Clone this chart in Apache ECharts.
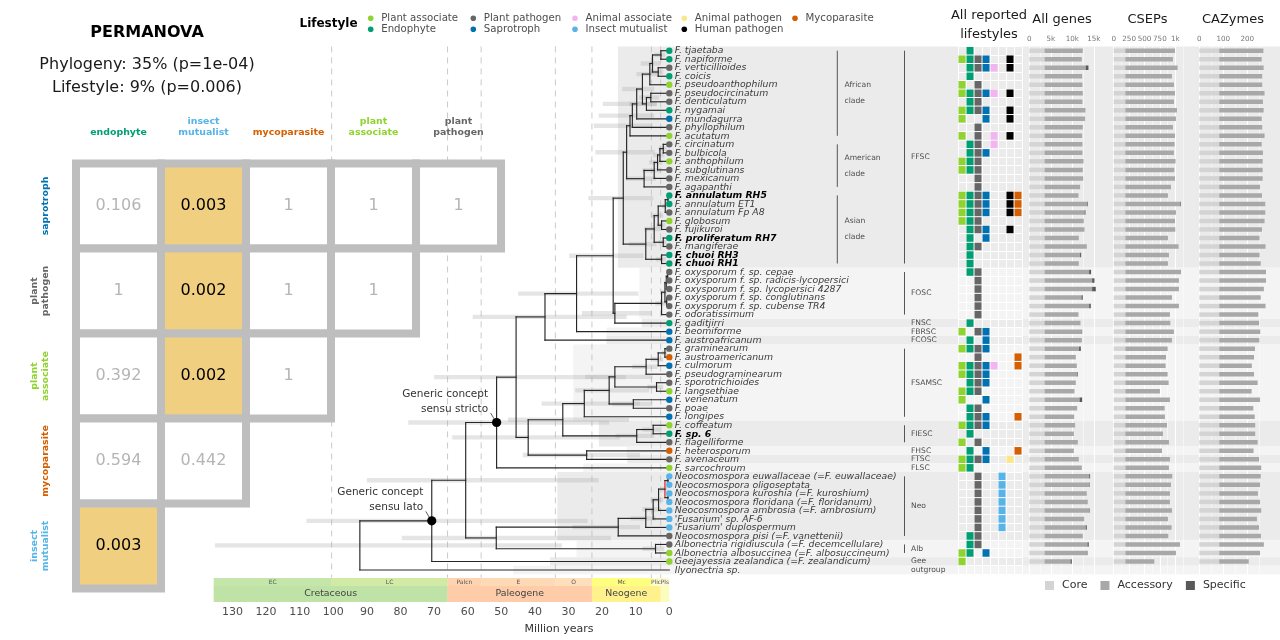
<!DOCTYPE html>
<html><head><meta charset="utf-8">
<script src="https://cdn.jsdelivr.net/npm/echarts/dist/echarts.min.js"></script>
<style>html,body{margin:0;padding:0;background:#fff}#c{width:1280px;height:640px}</style>
</head><body><div id="c"></div>
<script>
// ================= DATA =================
const tipNames = [
'F. tjaetaba','F. napiforme','F. verticillioides','F. coicis','F. pseudoanthophilum','F. pseudocircinatum','F. denticulatum','F. nygamai','F. mundagurra','F. phyllophilum',
'F. acutatum','F. circinatum','F. bulbicola','F. anthophilum','F. subglutinans','F. mexicanum','F. agapanthi','F. annulatum RH5','F. annulatum ET1','F. annulatum Fp A8',
'F. globosum','F. fujikuroi','F. proliferatum RH7','F. mangiferae','F. chuoi RH3','F. chuoi RH1','F. oxysporum f. sp. cepae','F. oxysporum f. sp. radicis-lycopersici','F. oxysporum f. sp. lycopersici 4287','F. oxysporum f. sp. conglutinans',
'F. oxysporum f. sp. cubense TR4','F. odoratissimum','F. gaditjirri','F. beomiforme','F. austroafricanum','F. graminearum','F. austroamericanum','F. culmorum','F. pseudograminearum','F. sporotrichioides',
'F. langsethiae','F. venenatum','F. poae','F. longipes','F. coffeatum','F. sp. 6','F. flagelliforme','F. heterosporum','F. avenaceum','F. sarcochroum',
'Neocosmospora euwallaceae (=F. euwallaceae)','Neocosmospora oligoseptata','Neocosmospora kuroshia (=F. kuroshium)','Neocosmospora floridana (=F. floridanum)','Neocosmospora ambrosia (=F. ambrosium)',"'Fusarium' sp. AF-6","'Fusarium' duplospermum",'Neocosmospora pisi (=F. vanettenii)','Albonectria rigidiuscula (=F. decemcellulare)','Albonectria albosuccinea (=F. albosuccineum)',
'Geejayessia zealandica (=F. zealandicum)','Ilyonectria sp.'];
const boldTips = [18, 23, 25, 26, 46];
// tip lifestyle codes (a plant associate, e endophyte, p plant pathogen, s saprotroph, m animal associate, i insect mutualist, y animal pathogen, h human pathogen, o mycoparasite)
const tipLifestyleGroups = ['eepeappesp','appapppeep','apepeepppp','ppesspospp','aspsaepopa','iiiiiiippa','a.'];

const lifestyleNames = ['Plant associate','Endophyte','Plant pathogen','Saprotroph','Animal associate','Insect mutualist','Animal pathogen','Human pathogen','Mycoparasite'];
const lifestyleCodes = ['a','e','p','s','m','i','y','h','o'];

// all reported lifestyles (8 columns per species)
const lifestyleTiles = [
'.e......','aeps..h.','.epsm.h.','.e......','a.p.....','aepsm.h.','.ep.....','aeps..h.','a..s..h.','..p.....',
'a.p.m.h.','.ep.m...','.eps....','aep.....','aep.....','..p.....','..p.....','aeps..ho','aeps..ho','aeps..ho',
'aep.....','.eps..h.','.e.s....','.ep.....','.e......','.e......','.ep.....','..p.....','..p.....','..p.....',
'..p.....','..p.....','.e......','a.ps....','.e.s....','aeps....','..p....o','aepsm..o','aeps....','.eps....',
'aep.....','a..s....','.ep.....','.eps...o','aeps....','.e......','a.p.....','.e.s...o','aeps..y.','ae......',
'..p..i..','..p..i..','..p..i..','..p..i..','..p..i..','..p..i..','..p..i..','.ep.....','.ep.....','ae.s....',
'a.......','........'];

// tree: internal nodes (children are tip numbers or node ids), ages in Myr, 95% HPD
const nodeId = ['A1','A2','A3','A4','A5','A6','A7','A8','A9','A10','B1','B2','B3','B4','B5','AfAm','C1','C2','C3','C4','C5','C6','C7','C8','FFSC',
'F1','F2','F3','F4','F5','N162','N167','N276','N37','S1','S2','S3','S4','S5','S6','S7','S8','T1','T2','E','HT','D','CC','SS',
'M1','M2','M3','M4','M5','M6','NEO','ALB','NA','BB','SL','ROOT'];
const nodeKids = [[1,2],[3,4],['A1','A2'],['A3',5],[6,7],['A5',8],['A4','A6'],['A7',9],['A8',10],['A9',11],
[12,13],['B1',14],['B2',15],['B3',16],['B4',17],['A10','B5'],
[18,19],['C1',20],[21,22],['C2','C3'],[23,24],['C4','C5'],[25,26],['C6','C7'],['AfAm','C8'],
[27,28],['F1',29],[30,31],['F2','F3'],['F4',32],['F5',33],['FFSC','N162'],['N167',34],['N276',35],
[36,37],['S1',38],['S2',39],[40,41],['S3','S4'],[42,43],['S5','S6'],['S7',44],[45,46],['T1',47],['S8','T2'],[48,49],['E','HT'],['N37','D'],['CC',50],
[51,52],[53,54],['M1','M2'],['M3',55],['M4',56],['M5',57],['M6',58],[59,60],['NEO','ALB'],['SS','NA'],['BB',61],['SL',62]];
const nodeAge = [2.5,3.3,5.0,5.8,5.5,6.8,8.0,9.7,11.0,11.7, 1.8,2.8,3.5,4.5,7.5,12.7, 0.4,1.2,2.3,3.3,1.8,4.5,2.3,7.0,13.7,
0.5,0.9,0.8,1.3,2.3,16.2,16.7,27.6,37.0, 1.3,3.3,6.9,3.8,16.2,10.7,17.9,25.3,4.8,9.7,31.7,24.6,42.0,45.6,51.4,
0.4,0.4,1.3,3.2,4.8,7.0,15.2,4.1,51.5,60.6,70.7,92.1];
const nodeHpdLo = [1.2,1.8,2.6,3.2,3.0,3.8,4.5,3.7,4.5,5.0, 0.8,1.5,2.0,2.5,4.0,4.3, 0.1,0.6,1.2,1.8,0.8,2.5,1.0,3.8,4.8,
0.2,0.4,0.3,0.6,1.0,5.2,7.7,9.2,12.7, 0.6,1.8,3.5,1.8,5.0,5.0,6.0,8.7,2.3,4.5,12.0,8.7,14.7,13.0,17.9,
0.1,0.1,0.6,1.8,2.5,4.0,8.7,1.5,17.4,21.0,24.3,32.0];
const nodeHpdHi = [4.4,5.5,8.5,9.8,9.0,12.0,14.0,19.8,21.0,22.5, 3.2,4.8,6.0,8.0,13.0,22.0, 0.9,2.2,3.8,5.5,3.2,7.5,4.0,12.0,24.1,
1.0,1.6,1.5,2.4,4.2,26.0,29.8,45.0,58.5, 2.3,5.5,11.0,6.5,25.0,17.0,28.0,38.0,8.0,16.0,48.0,43.6,64.6,70.0,77.7,
0.9,0.9,2.4,5.5,8.0,11.5,28.8,8.0,79.6,90.0,108.0,135.2];
const redNodes = ['M3'];
const annoNodes = ['SS','SL'];
const annoText = ['Generic concept\nsensu stricto','Generic concept\nsensu lato'];

// species complexes
const cladeNames = ['FFSC','FOSC','FNSC','FBRSC','FCOSC','FSAMSC','FIESC','FHSC','FTSC','FLSC','Neo','Alb','Gee','outgroup'];
const cladeFirst = [1,27,33,34,35,36,45,48,49,50,51,59,61,62];
const cladeLast  = [26,32,33,34,35,44,47,48,49,50,58,60,61,62];
const cladeBandAge = [15.3,8.9,8.2,18.7,18.7,28.6,21.0,12.7,12.5,25.6,33.3,27.6,35.5,46.4];
const subNames = ['African\nclade','American\nclade','Asian\nclade'];
const subFirst = [1,12,18];
const subLast = [11,17,26];

// geological time scale
const boundaryAges = [100.5, 66, 56, 33.9, 23.03, 5.333, 2.58];
const epochNames = ['EC','LC','Palcn','E','O','Mc','Plic','Pls',''];
const epochStart = [145,100.5,66,56,33.9,23.03,5.333,2.58,0.0117];
const epochEnd   = [100.5,66,56,33.9,23.03,5.333,2.58,0.0117,0];
const periodNames = ['Cretaceous','Paleogene','Neogene',''];
const periodStart = [145,66,23.03,2.58];
const periodEnd   = [66,23.03,2.58,0];
const timeTicks = [0,10,20,30,40,50,60,70,80,90,100,110,120,130];

// gene counts
const genesCore = [3550,3550,3550,3550,3550,3550,3550,3550,3550,3550,3550,3550,3550,3550,3550,3550,3550,3550,3550,3550,
3550,3550,3550,3550,3550,3550,3550,3550,3550,3550,3550,3550,3550,3550,3550,3550,3550,3550,3550,3550,
3550,3550,3550,3550,3550,3550,3550,3550,3550,3550,3550,3550,3550,3550,3550,3550,3550,3550,3550,3550,3550,null];
const genesAcc = [8890,8660,9590,8740,8810,8890,8810,9510,9430,8890, 8740,8810,8810,9050,8890,8970,8270,7890,9900,9310,
9120,9280,7960,9820,8260,7960,10360,11060,11060,8590, 10370,7890,8350,8640,8660,8030,7270,7500,7580,7270,
6960,8140,7580,6880,7110,6810,7730,6810,7960,8660, 10390,10420,9820,10050,10420,9200,9570,8890,9980,9820, 6040,null];
const genesSpec = [0,0,620,0,0,0,0,0,0,0, 0,0,0,0,0,0,0,0,150,200, 0,0,0,0,250,0,460,540,850,300,
380,0,0,100,0,400,0,0,150,0, 0,600,0,0,0,0,0,0,0,0, 200,100,0,0,100,0,250,0,300,150, 300,null];
const csepCore = [189,189,189,189,189,189,189,189,189,189,189,189,189,189,189,189,189,189,189,189,
189,189,189,189,189,189,189,189,189,189,189,189,189,189,189,189,189,189,189,189,
189,189,189,189,189,189,189,189,189,189,189,189,189,189,189,189,189,189,189,189,189,null];
const csepAcc = [806,773,849,757,789,806,789,838,822,773, 806,800,789,816,795,806,741,692,893,822,
806,811,692,865,708,692,889,870,870,757, 870,724,730,789,757,687,660,654,687,703,
562,724,638,643,676,611,708,595,724,708, 762,741,724,724,757,692,751,697,887,822, 470,null];
const csepSpec = [0,0,0,0,0,0,0,0,0,0, 0,0,0,0,0,0,0,0,10,0, 0,0,0,0,0,0,8,0,0,0,
0,0,0,0,0,0,0,0,0,0, 0,0,0,0,0,0,0,0,0,0, 0,0,0,0,0,0,0,0,0,0, 0,null];
const cazyCore = [83,83,83,83,83,83,83,83,83,83,83,83,83,83,83,83,83,83,83,83,
83,83,83,83,83,83,83,83,83,83,83,83,83,83,83,83,83,83,83,83,
83,83,83,83,83,83,83,83,83,83,83,83,83,83,83,83,83,83,83,83,83,null];
const cazyAcc = [184,177,185,179,179,189,182,185,177,179, 189,177,182,181,181,181,170,178,192,192,
189,178,168,193,168,173,195,195,186,173, 193,163,166,171,167,149,145,136,145,160,
135,170,142,148,150,150,160,143,166,175, 173,170,161,170,175,157,166,174,186,170, 123,null];

// PERMANOVA pairwise p-values
const matCols = ['endophyte','insect mutualist','mycoparasite','plant associate','plant pathogen'];
const matRows = ['saprotroph','plant pathogen','plant associate','mycoparasite','insect mutualist'];
const matP = [
 [0.106,0.003,1,1,1],
 [1,0.002,1,1,null],
 [0.392,0.002,1,null,null],
 [0.594,0.442,null,null,null],
 [0.003,null,null,null,null]];

// ================= STYLE / LAYOUT =================
const FONT = 'DejaVu Sans';
const LIFE_COLORS = ['#8fd32f','#009e73','#666666','#0072b2','#f2b5f0','#56b4e9','#fde68a','#000000','#d55e00'];
const EPOCH_COLORS = ['#8CCD57','#A6D84A','#FDA75F','#FDB46C','#FEC07A','#FFFF00','#FFFF99','#FFF2AE','#FEF2E0'];
const PERIOD_COLORS = ['#7FC64E','#FD9A52','#FFE619','#F9F97F'];
const colorOfCode = c => LIFE_COLORS[lifestyleCodes.indexOf(c)];
const colorOfName = n => LIFE_COLORS[lifestyleNames.map(s => s.toLowerCase()).indexOf(n)];
const tipLifestyle = tipLifestyleGroups.join('').split('');
const NT = tipNames.length;
const ROW_TOP = 46.45, ROW_H = 527.8, TREE_LEFT = 213.7, TREE_W = 455.6, AGE_MAX = 135.6;

const nodeIdx = {}; nodeId.forEach((id, i) => nodeIdx[id] = i);
const nodeRow = [];
function rowOf(k) {
  if (typeof k === 'number') return k;
  const i = nodeIdx[k];
  if (nodeRow[i] === undefined) nodeRow[i] = (rowOf(nodeKids[i][0]) + rowOf(nodeKids[i][1])) / 2;
  return nodeRow[i];
}
nodeId.forEach(id => rowOf(id));
const ageOf = k => typeof k === 'number' ? 0 : nodeAge[nodeIdx[k]];

const chart = echarts.init(document.getElementById('c'), null, {renderer: 'canvas', width: 1280, height: 640});

const gridBase = {outerBoundsMode: 'none', containLabel: false};
const grids = [
  Object.assign({left: TREE_LEFT, top: ROW_TOP, width: TREE_W, height: ROW_H}, gridBase),
  Object.assign({left: TREE_LEFT, top: 578, width: TREE_W, height: 24}, gridBase),
  Object.assign({left: 958, top: ROW_TOP, width: 64, height: ROW_H}, gridBase),
  Object.assign({left: 1029.3, top: ROW_TOP, width: 75.25, height: ROW_H}, gridBase),
  Object.assign({left: 1113.7, top: ROW_TOP, width: 73.9, height: ROW_H}, gridBase),
  Object.assign({left: 1199.3, top: ROW_TOP, width: 70.8, height: ROW_H}, gridBase),
  Object.assign({left: 76, top: 163.5, width: 425, height: 425}, gridBase)
];

function barXAxis(gi, max, interval, fmt) {
  return {type: 'value', gridIndex: gi, position: 'top', min: 0, max: max, interval: interval, z: 3,
    axisLine: {show: false}, axisTick: {show: false},
    axisLabel: {fontSize: 7.2, color: '#777', margin: 4, fontFamily: FONT, formatter: fmt, showMaxLabel: false},
    splitLine: {show: true, showMaxLine: false, lineStyle: {color: '#ffffff', width: 1.1}},
    minorTick: {show: false, splitNumber: 2},
    minorSplitLine: {show: true, lineStyle: {color: '#ffffff', width: 0.5}}};
}
const catY = gi => ({type: 'category', gridIndex: gi, data: tipNames, inverse: true, show: false});

const xAxes = [
  {type: 'value', gridIndex: 0, min: 0, max: AGE_MAX, interval: 10, inverse: true,
   axisLine: {show: false}, axisTick: {show: false}, splitLine: {show: false},
   axisLabel: {margin: 32, fontSize: 11, color: '#4d4d4d', fontFamily: FONT, showMaxLabel: false,
     formatter: v => timeTicks.indexOf(v) >= 0 ? String(v) : ''}},
  {type: 'value', gridIndex: 1, min: 0, max: AGE_MAX, inverse: true, show: false},
  {type: 'category', gridIndex: 2, data: [0,1,2,3,4,5,6,7], z: 3,
   axisLine: {show: false}, axisTick: {show: false}, axisLabel: {show: false},
   splitLine: {show: true, interval: 0, lineStyle: {color: '#ffffff', width: 1}}},
  barXAxis(3, 17500, 5000, v => v === 0 ? '0' : (v % 5000 === 0 ? (v / 1000) + 'k' : '')),
  barXAxis(4, 1200, 250, v => v === 1000 ? '1k' : ((v % 250 === 0 && v < 1000) ? String(v) : '')),
  barXAxis(5, 295, 100, v => v % 100 === 0 ? String(v) : ''),
  {type: 'category', gridIndex: 6, data: matCols, position: 'top',
   axisLine: {show: false}, axisTick: {show: false}, splitLine: {show: false},
   axisLabel: {interval: 0, margin: 25, fontSize: 9.4, fontWeight: 'bold', lineHeight: 11, fontFamily: FONT,
     formatter: v => v.replace(' ', '\n'), color: v => colorOfName(v)}}
];
const yAxes = [
  {type: 'value', gridIndex: 0, min: 0.5, max: NT + 0.5, inverse: true, show: false},
  {type: 'value', gridIndex: 1, min: 0, max: 3, show: false},
  {type: 'category', gridIndex: 2, data: tipNames, inverse: true, z: 3,
   axisLine: {show: false}, axisTick: {show: false}, axisLabel: {show: false},
   splitLine: {show: true, interval: 0, lineStyle: {color: '#ffffff', width: 1}}},
  catY(3), catY(4), catY(5),
  {type: 'category', gridIndex: 6, data: matRows, inverse: true,
   axisLine: {show: false}, axisTick: {show: false}, splitLine: {show: false},
   axisLabel: {interval: 0, rotate: 90, margin: 25, fontSize: 9.4, fontWeight: 'bold', lineHeight: 11, fontFamily: FONT,
     formatter: v => v.replace(' ', '\n'), color: v => colorOfName(v)}}
];

const series = [];
const onTree = {type: 'custom', xAxisIndex: 0, yAxisIndex: 0, silent: true};

// clade background bands
series.push(Object.assign({}, onTree, {z: 1,
  data: cladeNames.map((n, i) => [cladeBandAge[i], cladeFirst[i]]),
  renderItem: (params, api) => {
    const i = params.dataIndex;
    const y0 = api.coord([0, cladeFirst[i] - 0.5])[1];
    const y1 = api.coord([0, cladeLast[i] + 0.5])[1];
    const x0 = api.coord([cladeBandAge[i], 1])[0];
    return {type: 'rect', shape: {x: x0, y: y0, width: 1280 - x0, height: y1 - y0},
      style: {fill: i % 2 ? '#f4f4f4' : '#ebebeb'}};
  }}));

// geological boundaries
series.push(Object.assign({}, onTree, {z: 2,
  data: boundaryAges.map(a => [a, 1]),
  renderItem: (params, api) => {
    const x = api.coord([boundaryAges[params.dataIndex], 1])[0];
    const cs = params.coordSys;
    return {type: 'line', shape: {x1: x, y1: cs.y, x2: x, y2: cs.y + cs.height + 3.5},
      style: {stroke: '#c4c4c4', lineWidth: 0.9, lineDash: [6, 5]}};
  }}));

// HPD bars
series.push(Object.assign({}, onTree, {z: 3,
  data: nodeId.map((id, i) => [nodeAge[i], nodeRow[i]]),
  renderItem: (params, api) => {
    const i = params.dataIndex;
    const a = api.coord([nodeHpdHi[i], nodeRow[i]]);
    const b = api.coord([nodeHpdLo[i], nodeRow[i]]);
    return {type: 'rect', shape: {x: Math.min(a[0], b[0]), y: a[1] - 2.2, width: Math.abs(b[0] - a[0]), height: 4.4},
      style: {fill: 'rgba(175,175,175,0.32)'}};
  }}));

// tree edges
series.push(Object.assign({}, onTree, {z: 4,
  data: nodeId.map((id, i) => [nodeAge[i], nodeRow[i]]),
  renderItem: (params, api) => {
    const i = params.dataIndex;
    const kids = nodeKids[i];
    const pts = kids.map(k => api.coord([nodeAge[i], rowOf(k)]));
    const nx = pts[0][0];
    const vcol = redNodes.indexOf(nodeId[i]) >= 0 ? '#e41a1c' : '#262626';
    const ch = [{type: 'line', shape: {x1: nx, y1: pts[0][1], x2: nx, y2: pts[1][1]},
      style: {stroke: vcol, lineWidth: 1.15, lineCap: 'square'}}];
    kids.forEach((k, j) => {
      const cx = api.coord([ageOf(k), rowOf(k)])[0];
      ch.push({type: 'line', shape: {x1: nx, y1: pts[j][1], x2: cx, y2: pts[j][1]},
        style: {stroke: '#262626', lineWidth: 1.15, lineCap: 'square'}});
    });
    return {type: 'group', children: ch};
  }}));

// tips: points + names
series.push(Object.assign({}, onTree, {z: 5,
  data: tipNames.map((n, i) => [0, i + 1]),
  renderItem: (params, api) => {
    const i = params.dataIndex;
    const p = api.coord([0, i + 1]);
    const bold = boldTips.indexOf(i + 1) >= 0;
    const ch = [];
    const code = tipLifestyle[i];
    if (code && code !== '.') ch.push({type: 'circle', shape: {cx: p[0], cy: p[1], r: 3.2}, style: {fill: colorOfCode(code)}});
    ch.push({type: 'text', x: p[0] + 5.5, y: p[1] + 0.3, style: {text: tipNames[i], fontSize: 9.3, fontFamily: FONT,
      fontStyle: 'italic', fontWeight: bold ? 'bold' : 'normal', fill: bold ? '#000' : '#3a3a3a', align: 'left', verticalAlign: 'middle'}});
    return {type: 'group', children: ch};
  }}));

// clade labels
function cladeLayer(names, first, last, lineX, textX) {
  return Object.assign({}, onTree, {z: 5,
    data: names.map((n, i) => [0, first[i]]),
    renderItem: (params, api) => {
      const i = params.dataIndex;
      const y0 = api.coord([0, first[i]])[1], y1 = api.coord([0, last[i]])[1];
      const ch = [];
      if (last[i] > first[i]) ch.push({type: 'line', shape: {x1: lineX, y1: y0, x2: lineX, y2: y1}, style: {stroke: '#555', lineWidth: 1}});
      ch.push({type: 'text', x: textX, y: (y0 + y1) / 2, style: {text: names[i], fontSize: 7.6, fontFamily: FONT, fill: '#4d4d4d',
        align: 'left', verticalAlign: 'middle', lineHeight: 16}});
      return {type: 'group', children: ch};
    }});
}
series.push(cladeLayer(cladeNames, cladeFirst, cladeLast, 904.5, 911));
series.push(cladeLayer(subNames, subFirst, subLast, 837.3, 844.5));

// annotated nodes
series.push(Object.assign({}, onTree, {z: 6,
  data: annoNodes.map(id => [nodeAge[nodeIdx[id]], nodeRow[nodeIdx[id]]]),
  renderItem: (params, api) => {
    const k = nodeIdx[annoNodes[params.dataIndex]];
    const p = api.coord([nodeAge[k], nodeRow[k]]);
    return {type: 'group', children: [
      {type: 'line', shape: {x1: p[0] - 6, y1: p[1] - 9.5, x2: p[0] - 1.5, y2: p[1] - 2}, style: {stroke: '#333', lineWidth: 0.8}},
      {type: 'circle', shape: {cx: p[0], cy: p[1], r: 4.6}, style: {fill: '#000'}},
      {type: 'text', x: p[0] - 8.5, y: p[1] - 6, style: {text: annoText[params.dataIndex], fontSize: 10.5, fontFamily: FONT,
        fill: '#333', align: 'right', verticalAlign: 'bottom', lineHeight: 15}}
    ]};
  }}));

// geological time scale
function scaleLayer(names, starts, ends, colors, yLo, yHi, fs, tcol) {
  return {type: 'custom', xAxisIndex: 1, yAxisIndex: 1, silent: true, z: 3,
    data: names.map((n, i) => [starts[i], yLo]),
    renderItem: (params, api) => {
      const i = params.dataIndex;
      const a = api.coord([starts[i], yHi]), b = api.coord([ends[i], yLo]);
      const cs = params.coordSys;
      const x0 = Math.max(Math.min(a[0], b[0]), cs.x), x1 = Math.min(Math.max(a[0], b[0]), cs.x + cs.width);
      if (x1 <= x0) return null;
      return {type: 'group', children: [
        {type: 'rect', shape: {x: x0, y: a[1], width: x1 - x0, height: b[1] - a[1]}, style: {fill: colors[i], opacity: 0.5}},
        {type: 'text', x: (x0 + x1) / 2, y: (a[1] + b[1]) / 2, style: {text: names[i], fontSize: fs, fontFamily: FONT, fill: tcol,
          align: 'center', verticalAlign: 'middle'}}
      ]};
    }};
}
series.push(scaleLayer(epochNames, epochStart, epochEnd, EPOCH_COLORS, 2, 3, 6, '#555'));
series.push(scaleLayer(periodNames, periodStart, periodEnd, PERIOD_COLORS, 0, 2, 9.4, '#444'));

// lifestyle tiles
const tileData = [];
lifestyleTiles.forEach((row, r) => row.split('').forEach((c, col) => { if (c !== '.') tileData.push([col, r, c]); }));
series.push({type: 'custom', xAxisIndex: 2, yAxisIndex: 2, silent: true, z: 4,
  data: tileData.map(d => [d[0], d[1]]),
  renderItem: (params, api) => {
    const d = tileData[params.dataIndex];
    const p = api.coord([d[0], d[1]]);
    const s = api.size([1, 1]);
    return {type: 'rect', shape: {x: p[0] - s[0] / 2 + 0.5, y: p[1] - s[1] / 2 + 0.5, width: s[0] - 1, height: s[1] - 1},
      style: {fill: colorOfCode(d[2])}};
  }});

// gene bars
const BAR_COLORS = ['#d4d4d4', '#a8a8a8', '#595959'];
[[3, genesCore, genesAcc, genesSpec], [4, csepCore, csepAcc, csepSpec], [5, cazyCore, cazyAcc, null]].forEach(cfg => {
  const parts = [['Core', cfg[1]], ['Accessory', cfg[2]], ['Specific', cfg[3] || tipNames.map(() => 0)]];
  parts.forEach((p, j) => series.push({type: 'bar', name: p[0], xAxisIndex: cfg[0], yAxisIndex: cfg[0], stack: 'g' + cfg[0],
    data: p[1], barWidth: 4.5, z: 4, silent: true, itemStyle: {color: BAR_COLORS[j]}}));
});

// PERMANOVA matrix
const matData = [];
matP.forEach((row, r) => row.forEach((v, c) => { if (v !== null) matData.push([c, r, v]); }));
series.push({type: 'custom', xAxisIndex: 6, yAxisIndex: 6, silent: true, z: 10,
  data: matData,
  renderItem: (params, api) => {
    const d = matData[params.dataIndex];
    const p = api.coord([d[0], d[1]]);
    const s = api.size([1, 1]);
    const sig = d[2] < 0.05;
    return {type: 'group', children: [
      {type: 'rect', shape: {x: p[0] - s[0] / 2 - 4, y: p[1] - s[1] / 2 - 4, width: s[0] + 8, height: s[1] + 8}, style: {fill: '#bebebe'}},
      {type: 'rect', shape: {x: p[0] - s[0] / 2 + 4, y: p[1] - s[1] / 2 + 4, width: s[0] - 8, height: s[1] - 8}, style: {fill: sig ? '#f1cf81' : '#ffffff'}},
      {type: 'text', x: p[0], y: p[1], style: {text: String(d[2]), fontSize: 16, fontFamily: FONT, fill: sig ? '#000' : '#b5b5b5',
        align: 'center', verticalAlign: 'middle'}}
    ]};
  }});

// ---- texts & lifestyle legend ----
const T = (text, x, y, fs, opts) => Object.assign({type: 'text', x: x, y: y, silent: true,
  style: Object.assign({text: text, fontSize: fs, fontFamily: FONT, fill: '#000', align: 'center', verticalAlign: 'middle'}, opts || {})});
const graphics = [
  T('PERMANOVA', 147, 33, 16, {fontWeight: 'bold'}),
  T('Phylogeny: 35% (p=1e-04)', 147, 64.5, 16, {fill: '#1a1a1a'}),
  T('Lifestyle: 9% (p=0.006)', 147, 87.5, 16, {fill: '#1a1a1a'}),
  T('Lifestyle', 299.5, 24, 12, {fontWeight: 'bold', align: 'left'}),
  T('All reported\nlifestyles', 989, 25, 13, {lineHeight: 18.3, fill: '#1a1a1a'}),
  T('All genes', 1062, 19.5, 13, {fill: '#1a1a1a'}),
  T('CSEPs', 1147.5, 19.5, 13, {fill: '#1a1a1a'}),
  T('CAZymes', 1233, 19.5, 13, {fill: '#1a1a1a'}),
  T('Million years', 559, 629, 11, {fill: '#333'})
];
const legendColX = [370.7, 473.3, 575, 684.3, 795];
lifestyleNames.forEach((n, i) => {
  const x = legendColX[Math.floor(i / 2)], y = i % 2 ? 29.3 : 18.3;
  graphics.push({type: 'circle', silent: true, shape: {cx: x, cy: y, r: 2.8}, style: {fill: LIFE_COLORS[i]}});
  graphics.push(T(n, x + 10.5, y, 10.2, {align: 'left', fill: '#4d4d4d'}));
});

chart.setOption({
  animation: false,
  backgroundColor: '#ffffff',
  textStyle: {fontFamily: FONT},
  grid: grids,
  xAxis: xAxes,
  yAxis: yAxes,
  legend: {data: ['Core', 'Accessory', 'Specific'], left: 1045, top: 580, icon: 'rect', itemWidth: 9, itemHeight: 9,
    itemGap: 13, selectedMode: false, padding: 0,
    textStyle: {fontSize: 11, color: '#333', fontFamily: FONT, padding: [0, 0, 0, 3]}},
  graphic: graphics,
  series: series
});
</script>
</body></html>
